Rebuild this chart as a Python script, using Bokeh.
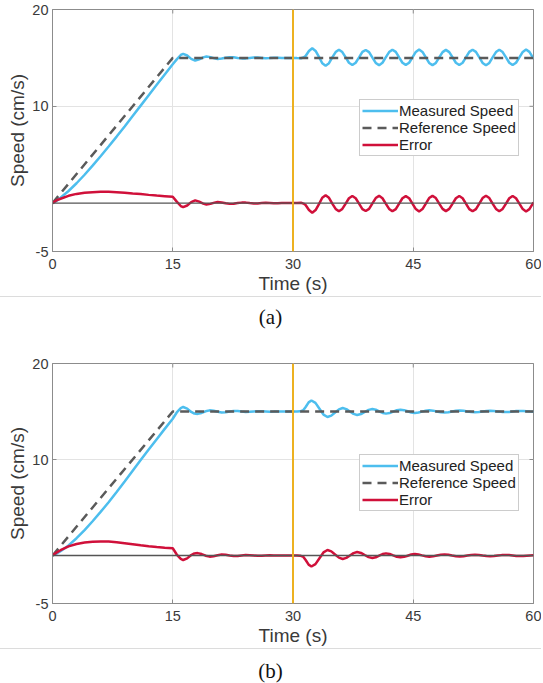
from bokeh.plotting import figure
from bokeh.models import Span, Legend, LegendItem, FixedTicker, Range1d, Div
from bokeh.layouts import column
from bokeh.embed import file_html
from bokeh.resources import INLINE

# ---------------- data ----------------
x_ticks = [0, 15, 30, 45, 60]
y_ticks = [-5, 10, 20]
disturbance_time = 30
legend_labels = ["Measured Speed", "Reference Speed", "Error"]
captions = ["(a)", "(b)"]

ref_time = [0, 15, 60]
ref_speed = [0, 15, 15]

# panel (a)
time_a = [0, 0.5, 1, 2, 3, 4, 5, 6, 7, 8, 9, 10, 11, 12, 13, 14, 15,
          15.5, 16.0, 16.3, 16.8, 17.3, 17.8, 18.3, 18.8, 19.2, 19.7, 20.2, 20.6, 21.1, 21.6, 22.1,
          22.6, 23.1, 23.6, 24.1, 24.6, 25.1, 25.6, 26.1, 26.6, 27.1, 27.6, 28.1, 28.6, 29.1, 29.6, 30.0,
          30.5, 31.0, 31.3,
          31.57, 31.99, 32.40, 32.82, 33.24, 33.65, 34.07, 34.49,
          34.90, 35.32, 35.73, 36.15, 36.57, 36.98, 37.40, 37.82,
          38.24, 38.66, 39.07, 39.49, 39.91, 40.32, 40.74, 41.16,
          41.57, 41.99, 42.40, 42.82, 43.24, 43.65, 44.07, 44.49,
          44.90, 45.32, 45.73, 46.15, 46.57, 46.98, 47.40, 47.82,
          48.24, 48.66, 49.07, 49.49, 49.91, 50.32, 50.74, 51.16,
          51.57, 51.99, 52.40, 52.82, 53.24, 53.65, 54.07, 54.49,
          54.90, 55.32, 55.73, 56.15, 56.57, 56.98, 57.40, 57.82,
          58.24, 58.66, 59.07, 59.49, 59.91, 60.0]
measured_a = [0, 0.22, 0.55, 1.25, 2.05, 2.93, 3.87, 4.84, 5.84, 6.87, 7.92, 9.0, 10.07, 11.15, 12.22, 13.28, 14.34,
              14.85, 15.3, 15.42, 15.25, 14.9, 14.72, 14.85, 15.05, 15.15, 15.08, 14.95, 14.88, 14.93, 15.02, 15.08,
              15.06, 15.0, 14.95, 14.95, 15.0, 15.04, 15.03, 15.0, 14.97, 14.98, 15.01, 15.02, 15.0, 14.98, 15.0, 15.0,
              14.98, 14.97, 15.05,
              15.2, 15.72, 16.0, 15.72, 15.1, 14.45, 14.2, 14.45,
              15.05, 15.6, 15.85, 15.6, 15.05, 14.5, 14.27, 14.5,
              15.05, 15.62, 15.82, 15.6, 15.03, 14.48, 14.25, 14.5,
              15.05, 15.6, 15.85, 15.62, 15.05, 14.5, 14.28, 14.5,
              15.05, 15.62, 15.87, 15.62, 15.05, 14.48, 14.25, 14.48,
              15.05, 15.6, 15.83, 15.6, 15.05, 14.5, 14.27, 14.5,
              15.05, 15.62, 15.85, 15.62, 15.05, 14.48, 14.24, 14.48,
              15.05, 15.6, 15.84, 15.6, 15.05, 14.5, 14.26, 14.5,
              15.05, 15.62, 15.86, 15.62, 15.05, 14.93]
error_a = [0, 0.28, 0.45, 0.75, 0.95, 1.07, 1.13, 1.16, 1.16, 1.13, 1.08, 1.0, 0.93, 0.85, 0.78, 0.72, 0.66,
           0.15, -0.3, -0.42, -0.25, 0.1, 0.28, 0.15, -0.05, -0.15, -0.08, 0.05, 0.12, 0.07, -0.02, -0.08,
           -0.06, 0.0, 0.05, 0.05, 0.0, -0.04, -0.03, 0.0, 0.03, 0.02, -0.01, -0.02, 0.0, 0.02, 0.0, 0.0,
           0.02, 0.03, -0.05,
           -0.2, -0.72, -1.0, -0.72, -0.1, 0.55, 0.8, 0.55,
           -0.05, -0.6, -0.85, -0.6, -0.05, 0.5, 0.73, 0.5,
           -0.05, -0.62, -0.82, -0.6, -0.03, 0.52, 0.75, 0.5,
           -0.05, -0.6, -0.85, -0.62, -0.05, 0.5, 0.72, 0.5,
           -0.05, -0.62, -0.87, -0.62, -0.05, 0.52, 0.75, 0.52,
           -0.05, -0.6, -0.83, -0.6, -0.05, 0.5, 0.73, 0.5,
           -0.05, -0.62, -0.85, -0.62, -0.05, 0.52, 0.76, 0.52,
           -0.05, -0.6, -0.84, -0.6, -0.05, 0.5, 0.74, 0.5,
           -0.05, -0.62, -0.86, -0.62, -0.05, 0.07]

# panel (b)
time_b = [0, 0.5, 1, 2, 3, 4, 5, 6, 7, 8, 9, 10, 11, 12, 13, 14, 15,
          15.5, 16.0, 16.3, 16.8, 17.3, 17.7, 18.1, 18.6, 19.1, 19.6, 20.1, 20.6, 21.1, 21.6, 22.1,
          22.6, 23.1, 23.6, 24.1, 24.6, 25.1, 25.6, 26.1, 26.6, 27.1, 27.6, 28.1, 28.6, 29.1, 29.6, 30.0,
          30.5, 30.9, 31.3, 31.6, 31.95, 32.3, 32.8, 33.3, 33.8, 34.3, 34.78, 35.25, 35.73, 36.2,
          36.65, 37.1, 37.55, 38.0, 38.48, 38.95, 39.43, 39.9, 40.33, 40.75, 41.18, 41.6,
          42.05, 42.5, 42.95, 43.4, 43.85, 44.3, 44.75, 45.2, 45.65, 46.1, 46.55, 47.0,
          47.48, 47.95, 48.43, 48.9, 49.38, 49.85, 50.33, 50.8, 51.28, 51.75, 52.23, 52.7,
          53.18, 53.65, 54.13, 54.6, 55.08, 55.55, 56.03, 56.5, 56.95, 57.4, 57.85, 58.3,
          58.73, 59.15, 59.58, 60.0]
measured_b = [0, 0.2, 0.45, 1.05, 1.8, 2.65, 3.57, 4.54, 5.55, 6.62, 7.72, 8.83, 9.94, 11.04, 12.12, 13.19, 14.25,
              14.9, 15.35, 15.47, 15.3, 14.95, 14.78, 14.75, 14.85, 15.02, 15.12, 15.08, 14.97, 14.9, 14.93, 15.0,
              15.06, 15.05, 15.0, 14.96, 14.97, 15.0, 15.03, 15.02, 15.0, 14.98, 14.99, 15.01, 15.01, 15.0, 14.99, 15.0,
              15.0, 15.02, 15.15, 15.5, 15.95, 16.15, 15.9, 15.29, 14.68, 14.43, 14.57, 14.9, 15.22, 15.36,
              15.25, 15.0, 14.75, 14.64, 14.73, 14.95, 15.17, 15.26, 15.19, 15.02, 14.85, 14.78,
              14.84, 14.99, 15.13, 15.19, 15.14, 15.02, 14.9, 14.85, 14.89, 14.99, 15.08, 15.12,
              15.09, 15.01, 14.93, 14.9, 14.93, 15.0, 15.07, 15.1, 15.07, 15.01, 14.95, 14.92,
              14.94, 15.0, 15.06, 15.08, 15.06, 15.01, 14.96, 14.94, 14.96, 15.0, 15.04, 15.06,
              15.05, 15.02, 14.99, 14.98]
error_b = [0, 0.3, 0.55, 0.95, 1.2, 1.35, 1.43, 1.46, 1.45, 1.38, 1.28, 1.17, 1.06, 0.96, 0.88, 0.81, 0.75,
           0.1, -0.35, -0.47, -0.3, 0.05, 0.22, 0.25, 0.15, -0.02, -0.12, -0.08, 0.03, 0.1, 0.07, 0.0,
           -0.06, -0.05, 0.0, 0.04, 0.03, 0.0, -0.03, -0.02, 0.0, 0.02, 0.01, -0.01, -0.01, 0.0, 0.01, 0.0,
           0.0, -0.02, -0.15, -0.5, -0.95, -1.15, -0.9, -0.29, 0.32, 0.57, 0.43, 0.1, -0.22, -0.36,
           -0.25, 0.0, 0.25, 0.36, 0.27, 0.05, -0.17, -0.26, -0.19, -0.02, 0.15, 0.22,
           0.16, 0.01, -0.13, -0.19, -0.14, -0.02, 0.1, 0.15, 0.11, 0.01, -0.08, -0.12,
           -0.09, -0.01, 0.07, 0.1, 0.07, 0.0, -0.07, -0.1, -0.07, -0.01, 0.05, 0.08,
           0.06, 0.0, -0.06, -0.08, -0.06, -0.01, 0.04, 0.06, 0.04, 0.0, -0.04, -0.06,
           -0.05, -0.02, 0.01, 0.02]

# ---------------- styling ----------------
SANS = "Liberation Sans"
AX_COLOR = "#8c8c8c"
TXT_COLOR = "#3a3a3a"
BLUE = "#4DBEEE"
GRAY = "#5a5a5a"
RED = "#D0103A"
ORANGE = "#EDB120"
Y_MIN, Y_MAX = -5, 20
X_MIN, X_MAX = 0, 60


def style_axis(ax, ticks, standoff):
    ax.ticker = FixedTicker(ticks=ticks)
    ax.minor_tick_line_color = None
    ax.major_tick_in = 4
    ax.major_tick_out = 0
    ax.major_tick_line_color = AX_COLOR
    ax.axis_line_color = AX_COLOR
    ax.major_label_text_font = SANS
    ax.major_label_text_font_size = "14.5px"
    ax.major_label_text_color = TXT_COLOR
    ax.major_label_standoff = standoff
    ax.major_label_overrides = {v: str(v) for v in ticks}
    ax.axis_label_text_font = SANS
    ax.axis_label_text_font_size = "19px"
    ax.axis_label_text_font_style = "normal"
    ax.axis_label_text_color = TXT_COLOR
    ax.axis_label_standoff = 1


def make_panel(t, meas, err, height, border_top, border_bottom, legend_y):
    p = figure(width=541, height=height, x_range=Range1d(X_MIN, X_MAX), y_range=Range1d(Y_MIN, Y_MAX),
               output_backend="svg", toolbar_location=None,
               min_border_left=52, min_border_right=8, min_border_top=border_top,
               min_border_bottom=border_bottom)
    p.outline_line_color = AX_COLOR
    p.outline_line_width = 1
    p.xgrid.ticker = FixedTicker(ticks=x_ticks)
    p.ygrid.ticker = FixedTicker(ticks=y_ticks)
    p.xgrid.grid_line_color = "#e3e3e3"
    p.ygrid.grid_line_color = "#e3e3e3"

    style_axis(p.xaxis[0], x_ticks, 7)
    style_axis(p.yaxis[0], y_ticks, 4)
    p.xaxis.axis_label = "Time (s)"
    p.yaxis.axis_label = "Speed (cm/s)"

    # inward tick marks on the top and right edges of the box (half is clipped by the frame)
    p.scatter(x=x_ticks, y=[Y_MAX] * len(x_ticks), marker="dash", angle=1.5708, size=8,
              line_color=AX_COLOR, line_width=1)
    p.scatter(x=[X_MAX] * len(y_ticks), y=y_ticks, marker="dash", size=8,
              line_color=AX_COLOR, line_width=1)

    r_meas = p.line(t, meas, line_color=BLUE, line_width=2.5)
    r_ref = p.line(ref_time, ref_speed, line_color=GRAY, line_width=2.5, line_dash="9 6")
    r_err = p.line(t, err, line_color=RED, line_width=2.5)

    p.add_layout(Span(location=0, dimension="width", line_color="#555555", line_width=1.3))
    p.add_layout(Span(location=disturbance_time, dimension="height", line_color=ORANGE, line_width=2))

    legend = Legend(items=[LegendItem(label=legend_labels[0], renderers=[r_meas]),
                           LegendItem(label=legend_labels[1], renderers=[r_ref]),
                           LegendItem(label=legend_labels[2], renderers=[r_err])],
                    location=(307, legend_y),
                    label_text_font=SANS, label_text_font_size="15px", label_text_color="#222222",
                    label_height=15, glyph_height=15, glyph_width=36, label_standoff=1,
                    spacing=0, padding=2, margin=0,
                    border_line_color="#9a9a9a", border_line_width=1,
                    background_fill_color="white", background_fill_alpha=1)
    p.add_layout(legend)
    return p


def make_caption(text, height, pad):
    return Div(text=text, width=541, height=height, margin=0,
               styles={"border-top": "1px solid #dcdcdc", "text-align": "center",
                       "font-family": "Liberation Serif", "font-size": "21px",
                       "color": "#111111", "padding-top": f"{pad}px",
                       "box-sizing": "border-box", "line-height": "24px"})


p_a = make_panel(time_a, measured_a, error_a, 296, 9, 43, 95)
cap_a = make_caption(captions[0], 61, 8)
p_b = make_panel(time_b, measured_b, error_b, 291, 6, 43, 92)
cap_b = make_caption(captions[1], 34, 10)

layout = column(p_a, cap_a, p_b, cap_b, spacing=0)

open("out.html", "w").write(file_html(layout, INLINE))
